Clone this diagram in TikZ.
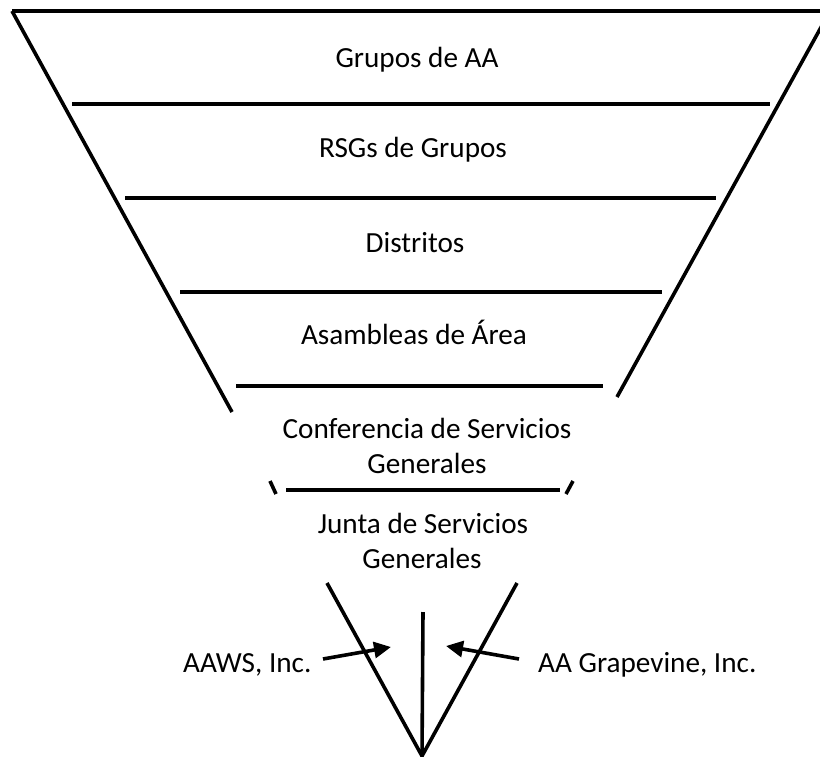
\documentclass[tikz,border=0pt]{standalone}
\usepackage{fontspec}
\setmainfont{Carlito}
\usetikzlibrary{arrows.meta}
\begin{document}
\begin{tikzpicture}[x=1pt,y=-1pt,
  edge/.style={line width=3.6pt},
  lbl/.style={font=\fontsize{29.2}{35}\selectfont, inner sep=0pt, anchor=base, align=center},
  arr/.style={line width=3.6pt,-{Triangle[length=17pt,width=16pt]}}]
\useasboundingbox (0,0) rectangle (820,756);
\clip (0,0) rectangle (820,756);
% side and top lines
\coordinate (tl) at (12,11);
\coordinate (tr) at (830,11);
\coordinate (lb) at (232,412);
\coordinate (rb) at (617,397);
\draw[edge] (tl) -- (tr);
\draw[edge] (tl) -- (lb);
\draw[edge] (tr) -- (rb);
% horizontal dividers
\coordinate (h1a) at (72,104);  \coordinate (h1b) at (770,104);
\coordinate (h2a) at (125,198); \coordinate (h2b) at (716,198);
\coordinate (h3a) at (180,292); \coordinate (h3b) at (662,292);
\coordinate (h4a) at (236,386); \coordinate (h4b) at (603,386);
\coordinate (h5a) at (286,490); \coordinate (h5b) at (560,490);
\draw[edge] (h1a) -- (h1b);
\draw[edge] (h2a) -- (h2b);
\draw[edge] (h3a) -- (h3b);
\draw[edge] (h4a) -- (h4b);
\draw[edge] (h5a) -- (h5b);
% small ticks
\coordinate (k1a) at (270,481); \coordinate (k1b) at (276,494);
\coordinate (k2a) at (573,481); \coordinate (k2b) at (566,494);
\draw[edge] (k1a) -- (k1b);
\draw[edge] (k2a) -- (k2b);
% bottom V
\coordinate (vl) at (327,583);
\coordinate (vr) at (517,583);
\coordinate (apex) at (422,756);
\coordinate (vt) at (423,612);
\draw[edge] (vl) -- (apex) -- (vr);
\draw[edge] (vt) -- (apex);
% texts
\node[lbl] (t1) at (417,67) {Grupos de AA};
\node[lbl] (t2) at (413,157) {RSGs de Grupos};
\node[lbl] (t3) at (415,252) {Distritos};
\node[lbl] (t4) at (414,344) {Asambleas de Área};
\node[lbl] (t5) at (427,438) {Conferencia de Servicios};
\node[lbl] (t5b) at (427,473) {Generales};
\node[lbl] (t6) at (423,533) {Junta de Servicios};
\node[lbl] (t6b) at (422,568) {Generales};
\node[lbl, anchor=base west] (aaws) at (183,672) {AAWS, Inc.};
\node[lbl, anchor=base west] (grape) at (538,672) {AA Grapevine, Inc.};
% arrows
\coordinate (a1s) at (323,659);
\coordinate (a1t) at (391,647);
\coordinate (a2s) at (519,659);
\coordinate (a2t) at (446,646);
\draw[arr] (a1s) -- (a1t);
\draw[arr] (a2s) -- (a2t);
\end{tikzpicture}
\end{document}
